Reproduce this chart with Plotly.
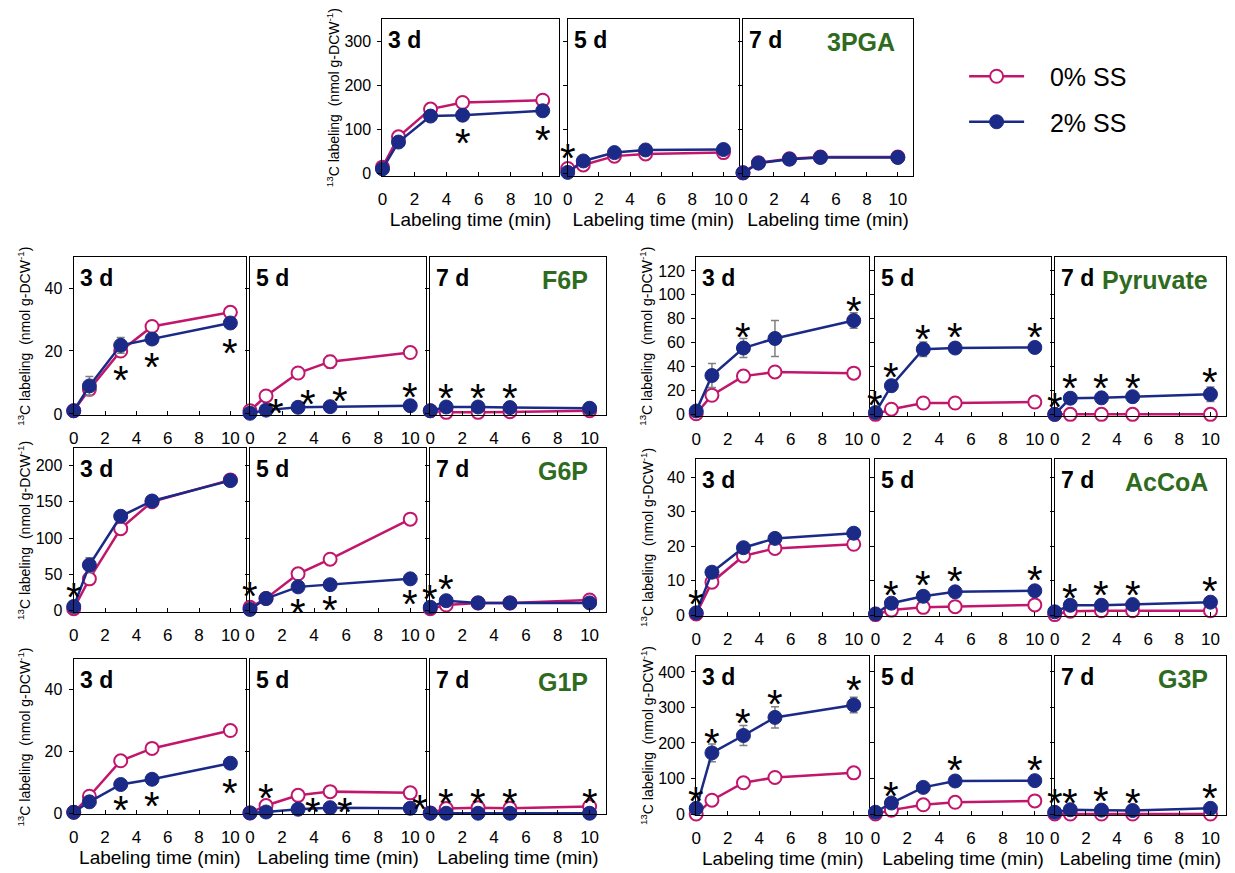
import plotly.graph_objects as go

# ---------------- data ----------------
TIME = [0, 1, 3, 5, 10]
DAY_LABELS = ["3 d", "5 d", "7 d"]
METABOLITES = ["3PGA", "F6P", "G6P", "G1P", "Pyruvate", "AcCoA", "G3P"]
SERIES_NAMES = ["0% SS", "2% SS"]

# values per day [3 d, 5 d, 7 d]; CTRL = 0% SS (open), SS = 2% SS (filled)
PGA_CTRL = [[15, 84, 147, 162, 167], [12, 20, 40, 45, 48], [2, 25, 34, 38, 38]]
PGA_SS = [[11, 72, 131, 133, 143], [3, 29, 48, 54, 55], [2, 24, 33, 37, 37]]
F6P_CTRL = [[1, 7.8, 20, 27.8, 32.3], [1, 5.7, 13, 16.6, 19.5], [1, 0.5, 0.5, 0.7, 1]]
F6P_SS = [[1, 8.9, 21.8, 23.8, 28.9], [0.2, 1.2, 2.1, 2.3, 2.6], [1, 2.2, 2.2, 2.0, 1.8]]
G6P_CTRL = [[3, 44, 113, 150, 180], [5, 17, 51, 71, 126], [3, 8, 11, 11, 15]]
G6P_SS = [[6, 63, 130, 151, 179], [2, 17, 33, 36, 44], [5, 14, 11, 11, 11]]
G1P_CTRL = [[0.3, 5.5, 17, 21, 26.8], [0.1, 2.5, 5.8, 7, 6.6], [0.1, 1.5, 1.8, 1.6, 2.2]]
G1P_SS = [[0.3, 3.7, 9.3, 11, 16.2], [0.1, 0.4, 1.3, 1.8, 1.6], [0, 0, 0, 0, 0]]
PYR_CTRL = [[0.5, 16, 32, 35.5, 34.5], [0, 4.3, 9.5, 9.5, 10.3], [0, 0, 0, 0, 0]]
PYR_SS = [[2.8, 32.5, 55.5, 63.5, 78.5], [1.5, 24, 54.5, 55.5, 56], [0, 13.5, 13.8, 14.8, 16.8]]
ACC_CTRL = [[0.4, 9.6, 17.2, 19.4, 20.6], [0.2, 1.5, 2.3, 2.5, 3], [0.2, 1.2, 1.3, 1.3, 1.3]]
ACC_SS = [[0.7, 12.5, 19.6, 22.3, 23.8], [0.4, 3.5, 5.5, 6.8, 7.1], [1, 2.9, 2.9, 3.1, 3.8]]
G3P_CTRL = [[0, 39, 88, 103, 116], [0, 11, 26, 33, 37], [0, 0, 0, 0, 0]]
G3P_SS = [[16, 172, 221, 272, 307], [5, 31, 75, 93, 94], [5, 12, 11, 10, 16]]

# standard deviations (error bars)
PGA_CTRL_ERR = [[0, 0, 0, 0, 0], [0, 0, 0, 0, 0], [0, 0, 0, 0, 0]]
PGA_SS_ERR = [[0, 0, 0, 0, 0], [0, 0, 0, 0, 0], [0, 0, 0, 0, 0]]
F6P_CTRL_ERR = [[0, 1.5, 0, 1.8, 0], [0, 0, 0, 2.0, 1.5], [0, 0, 0, 0, 0]]
F6P_SS_ERR = [[0, 3.0, 2.5, 0, 0], [0, 0, 0, 0, 0], [0, 0, 0, 0, 0]]
G6P_CTRL_ERR = [[0, 0, 0, 0, 0], [0, 0, 0, 0, 0], [0, 0, 0, 0, 0]]
G6P_SS_ERR = [[0, 10, 7, 0, 0], [0, 0, 0, 0, 0], [0, 0, 0, 0, 0]]
G1P_CTRL_ERR = [[0, 0, 0, 0, 0], [0, 0, 0, 0, 0], [0, 0, 0, 0, 0]]
G1P_SS_ERR = [[0, 0, 0, 0, 0], [0, 0, 0, 0, 0], [0, 0, 0, 0, 0]]
PYR_CTRL_ERR = [[0, 0, 0, 0, 0], [0, 0, 0, 0, 0], [0, 0, 0, 0, 0]]
PYR_SS_ERR = [[0, 10, 8, 15, 6.5], [0, 0, 6, 0, 0], [0, 2, 2, 2, 6]]
ACC_CTRL_ERR = [[0, 0, 0, 0, 0], [0, 0, 0, 0, 0], [0, 0, 0, 0, 0]]
ACC_SS_ERR = [[0, 0, 0, 0, 0], [0, 0, 0, 0, 0], [0, 0, 0, 0, 0]]
G3P_CTRL_ERR = [[0, 0, 0, 0, 0], [0, 0, 0, 0, 0], [0, 0, 0, 0, 0]]
G3P_SS_ERR = [[0, 25, 28, 30, 22], [0, 0, 12, 0, 0], [0, 0, 0, 0, 0]]

# significance asterisks (x, y) per day
PGA_STAR_X = [[5, 10], [0], []]
PGA_STAR_Y = [[92, 98], [57], []]
F6P_STAR_X = [[3, 5, 10], [1.6, 3.6, 5.6, 10], [1, 3, 5]]
F6P_STAR_Y = [[13.8, 17.9, 22.4], [3.3, 6.1, 7.0, 8.5], [8, 8, 8]]
G6P_STAR_X = [[0], [0, 3, 5, 10], [0, 1]]
G6P_STAR_Y = [[32], [33, 10, 15, 22], [29, 43]]
G1P_STAR_X = [[3, 5, 10], [1, 3.9, 5.9, 10.6], [1, 3, 5, 10]]
G1P_STAR_Y = [[4, 5.5, 9.7], [8.1, 3.4, 3.4, 4.4], [6.5, 6.5, 6.5, 6.5]]
PYR_STAR_X = [[3, 10], [0, 1, 3, 5, 10], [0, 1, 3, 5, 10]]
PYR_STAR_Y = [[72.5, 94.6], [16, 39.4, 71, 72.5, 72.5], [14.6, 29.8, 29.8, 29.8, 35.3]]
ACC_STAR_X = [[0], [1, 3, 5, 10], [1, 3, 5, 10]]
ACC_STAR_Y = [[6.1], [8.6, 11.6, 12.6, 13], [7.8, 8.8, 8.8, 9.7]]
G3P_STAR_X = [[0, 1, 3, 5, 10], [1, 5, 10], [0, 1, 3, 5, 10]]
G3P_STAR_Y = [[63, 226, 282, 338, 375], [77, 152, 152], [59, 59, 63, 59, 73]]

# axis settings per metabolite
Y_RANGES = [[-6, 352], [-0.4, 50], [-2, 224], [-0.4, 50], [-1.5, 132], [-0.3, 45.4], [-4, 445]]
Y_TICKS = [[0, 100, 200, 300], [0, 20, 40], [0, 50, 100, 150, 200], [0, 20, 40],
           [0, 20, 40, 60, 80, 100, 120], [0, 10, 20, 30, 40], [0, 100, 200, 300, 400]]
X_TICKS = [0, 2, 4, 6, 8, 10]

# ---------------- layout (pixels) ----------------
W, H = 1235, 873
TOP_X = [(379, 556), (565, 737), (741, 912)]
LEFT_X = [(69, 242), (246, 423), (427, 603)]
RIGHT_X = [(694, 868), (874, 1050), (1054, 1226)]
PANEL_X = [TOP_X, LEFT_X, LEFT_X, LEFT_X, RIGHT_X, RIGHT_X, RIGHT_X]
PANEL_Y = [(19, 178), (259, 419), (452, 618), (665, 822), (259, 420), (463, 622), (662, 823)]
HAS_XTITLE = [True, False, False, True, False, False, True]

CTRL = [PGA_CTRL, F6P_CTRL, G6P_CTRL, G1P_CTRL, PYR_CTRL, ACC_CTRL, G3P_CTRL]
SS = [PGA_SS, F6P_SS, G6P_SS, G1P_SS, PYR_SS, ACC_SS, G3P_SS]
CTRL_ERR = [PGA_CTRL_ERR, F6P_CTRL_ERR, G6P_CTRL_ERR, G1P_CTRL_ERR, PYR_CTRL_ERR, ACC_CTRL_ERR, G3P_CTRL_ERR]
SS_ERR = [PGA_SS_ERR, F6P_SS_ERR, G6P_SS_ERR, G1P_SS_ERR, PYR_SS_ERR, ACC_SS_ERR, G3P_SS_ERR]
STAR_X = [PGA_STAR_X, F6P_STAR_X, G6P_STAR_X, G1P_STAR_X, PYR_STAR_X, ACC_STAR_X, G3P_STAR_X]
STAR_Y = [PGA_STAR_Y, F6P_STAR_Y, G6P_STAR_Y, G1P_STAR_Y, PYR_STAR_Y, ACC_STAR_Y, G3P_STAR_Y]

MAG = "#C1166C"
BLUE = "#1B2A86"
GREEN = "#2F6B1E"
ERRC = "#808080"
FONT = "Liberation Sans, Arial, Helvetica, sans-serif"
STAR_SIZE = 40

fig = go.Figure()
annotations = []
layout_axes = {}
n = 0
for mi, met in enumerate(METABOLITES):
    yt, yb = PANEL_Y[mi]
    for di in range(3):
        n += 1
        xa = "x" if n == 1 else f"x{n}"
        ya = "y" if n == 1 else f"y{n}"
        xk = "xaxis" if n == 1 else f"xaxis{n}"
        yk = "yaxis" if n == 1 else f"yaxis{n}"
        x0, x1 = PANEL_X[mi][di]
        layout_axes[xk] = dict(
            domain=[x0 / W, x1 / W], range=[0, 11], anchor=ya,
            tickvals=X_TICKS, ticks="inside", ticklen=4, tickwidth=1, tickcolor="black",
            ticklabelstandoff=7,
            showline=True, mirror=True, linecolor="black", linewidth=1.3,
            showgrid=False, zeroline=False,
            tickfont=dict(size=17, color="black", family=FONT),
            title=dict(text="Labeling time (min)" if HAS_XTITLE[mi] else "",
                       font=dict(size=19, color="black", family=FONT), standoff=2),
        )
        layout_axes[yk] = dict(
            domain=[1 - yb / H, 1 - yt / H], range=Y_RANGES[mi], anchor=xa,
            tickvals=Y_TICKS[mi], ticks="outside", ticklen=4, tickwidth=1, tickcolor="black",
            ticklabelstandoff=3,
            showticklabels=(di == 0),
            showline=True, mirror=True, linecolor="black", linewidth=1.3,
            showgrid=False, zeroline=False,
            tickfont=dict(size=16, color="black", family=FONT),
        )
        fig.add_trace(go.Scatter(
            x=TIME, y=CTRL[mi][di], xaxis=xa, yaxis=ya, mode="lines+markers",
            name="\u00a0\u00a0\u00a0" + SERIES_NAMES[0], legendgroup="ctrl", showlegend=(n == 1),
            line=dict(color=MAG, width=2.5),
            marker=dict(symbol="circle", size=13, color="white", line=dict(color=MAG, width=2)),
            error_y=dict(type="data", array=CTRL_ERR[mi][di], color=ERRC, thickness=1.5, width=4),
            cliponaxis=False,
        ))
        fig.add_trace(go.Scatter(
            x=TIME, y=SS[mi][di], xaxis=xa, yaxis=ya, mode="lines+markers",
            name="\u00a0\u00a0\u00a0" + SERIES_NAMES[1], legendgroup="ss", showlegend=(n == 1),
            line=dict(color=BLUE, width=2.5),
            marker=dict(symbol="circle", size=14, color=BLUE, line=dict(color=BLUE, width=1)),
            error_y=dict(type="data", array=SS_ERR[mi][di], color=ERRC, thickness=1.5, width=4),
            cliponaxis=False,
        ))
        # day label
        annotations.append(dict(
            text=f"<b>{DAY_LABELS[di]}</b>", xref=f"{xa} domain", yref=f"{ya} domain",
            x=0, y=1, xanchor="left", yanchor="top", xshift=4, yshift=-6, showarrow=False,
            font=dict(size=23, color="black", family=FONT),
        ))
        if di == 2:
            annotations.append(dict(
                text=f"<b>{met}</b>", xref=f"{xa} domain", yref=f"{ya} domain",
                x=1, y=1, xanchor="right", yanchor="top", xshift=-16, yshift=-7, showarrow=False,
                font=dict(size=25, color=GREEN, family=FONT),
            ))
        for sx, sy in zip(STAR_X[mi][di], STAR_Y[mi][di]):
            annotations.append(dict(
                text="*", xref=xa, yref=ya, x=sx, y=sy, xanchor="center", yanchor="middle",
                yshift=-0.24 * STAR_SIZE, showarrow=False,
                font=dict(size=STAR_SIZE, color="black", family=FONT),
            ))
    # y-axis title for the row
    x3d = PANEL_X[mi][0][0]
    annotations.append(dict(
        text="<sup>13</sup>C labeling  (nmol g-DCW<sup>-1</sup>)",
        xref="paper", yref="paper", x=(x3d - 50) / W, y=1 - (yt + yb) / 2 / H,
        xanchor="center", yanchor="middle", textangle=-90, showarrow=False,
        font=dict(size=14, color="black", family=FONT),
    ))

fig.update_layout(**layout_axes)
fig.update_layout(
    width=W, height=H, margin=dict(l=0, r=0, t=0, b=0),
    paper_bgcolor="white", plot_bgcolor="white",
    font=dict(family=FONT, color="black"),
    annotations=annotations,
    showlegend=True,
    legend=dict(x=963 / W, y=1 - 54 / H, xanchor="left", yanchor="top",
                font=dict(size=25, color="black", family=FONT),
                tracegroupgap=10, bgcolor="rgba(0,0,0,0)", itemwidth=55),
)
fig.write_html("out.html", config={"displayModeBar": False},
               post_script="document.body.style.margin='0px';")
